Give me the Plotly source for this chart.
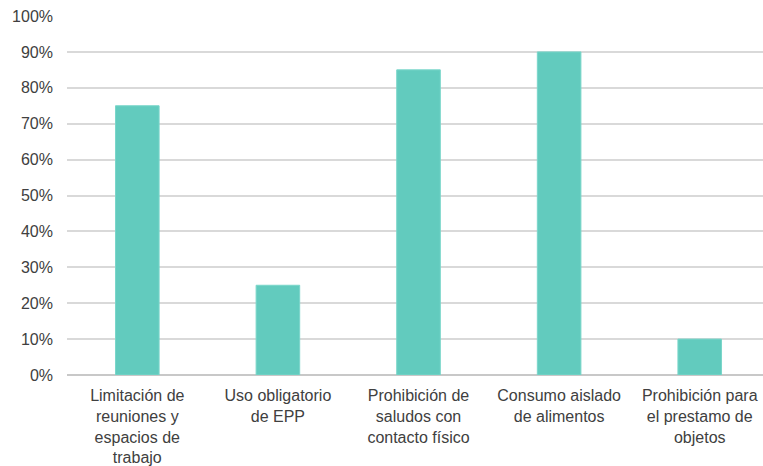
import plotly.graph_objects as go

# Medidas preventivas y porcentaje de aplicación
categorias = [
    "Limitación de<br>reuniones y<br>espacios de<br>trabajo",
    "Uso obligatorio<br>de EPP",
    "Prohibición de<br>saludos con<br>contacto físico",
    "Consumo aislado<br>de alimentos",
    "Prohibición para<br>el prestamo de<br>objetos",
]
porcentajes = [0.75, 0.25, 0.85, 0.90, 0.10]
ticks_y = [0, 0.1, 0.2, 0.3, 0.4, 0.5, 0.6, 0.7, 0.8, 0.9, 1.0]

fig = go.Figure(
    go.Bar(
        x=list(range(len(categorias))),
        y=porcentajes,
        width=0.31,
        marker=dict(color="#62CBBE", line=dict(color="#7AD6CA", width=1)),
    )
)

fuente = dict(family="Liberation Sans, Arial, sans-serif", size=16, color="#404040")

fig.update_layout(
    width=763,
    height=466,
    margin=dict(l=67, r=0, t=16, b=91),
    paper_bgcolor="white",
    plot_bgcolor="white",
    showlegend=False,
    font=fuente,
    xaxis=dict(
        tickmode="array",
        tickvals=list(range(len(categorias))),
        ticktext=categorias,
        range=[-0.5, 4.45],
        showgrid=False,
        zeroline=False,
        showline=False,
        ticks="",
        tickangle=0,
        ticklabelstandoff=9,
        automargin=False,
        tickfont=fuente,
    ),
    yaxis=dict(
        range=[0, 1.0],
        tickmode="array",
        tickvals=ticks_y,
        tickformat=".0%",
        showgrid=True,
        gridcolor="#D9D9D9",
        gridwidth=1.5,
        zeroline=True,
        zerolinecolor="#C8C8C8",
        zerolinewidth=1.5,
        showline=False,
        ticks="",
        ticklabelstandoff=13,
        automargin=False,
        tickfont=fuente,
    ),
)

fig.write_html("out.html")
